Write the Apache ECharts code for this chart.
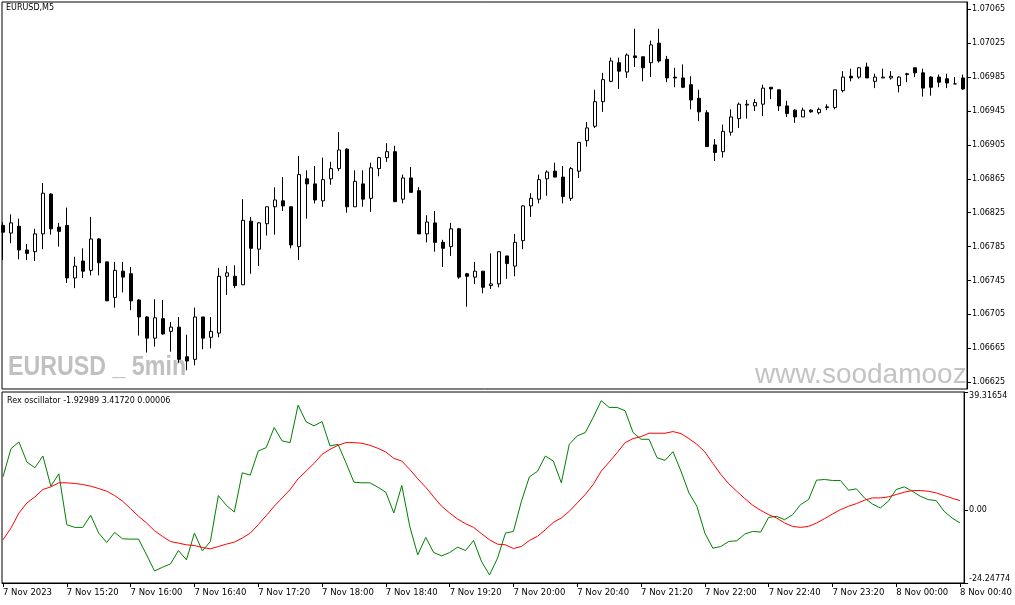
<!DOCTYPE html>
<html>
<head>
<meta charset="utf-8">
<script src="https://cdn.jsdelivr.net/npm/echarts@6/dist/echarts.min.js"></script>
<style>
html,body{margin:0;padding:0;background:#fff;}
#chart{width:1015px;height:605px;}
</style>
</head>
<body>
<div id="chart"></div>
<script>
// ---- data (EURUSD M5, 7 Nov 2023 14:40 .. 8 Nov 00:40) ----
const timeLabels = ["7 Nov 2023","7 Nov 15:20","7 Nov 16:00","7 Nov 16:40","7 Nov 17:20","7 Nov 18:00","7 Nov 18:40","7 Nov 19:20","7 Nov 20:00","7 Nov 20:40","7 Nov 21:20","7 Nov 22:00","7 Nov 22:40","7 Nov 23:20","8 Nov 00:00","8 Nov 00:40"];
const timeTickIndex = [0,8,16,24,32,40,48,56,64,72,80,88,96,104,112,120];
const priceTicks = [1.06625,1.06665,1.06705,1.06745,1.06785,1.06825,1.06865,1.06905,1.06945,1.06985,1.07025,1.07065];
const oscTicks = [-24.24774, 0, 39.31654];

const opens = [1.06810,1.06801,1.06809,1.06781,1.06779,1.06800,1.06847,1.06808,1.06810,1.06748,
1.06768,1.06757,1.06794,1.06767,1.06725,1.06756,1.06753,1.06722,1.06702,1.06677,
1.06700,1.06685,1.06690,1.06655,1.06652,1.06702,1.06678,1.06683,1.06750,1.06750,
1.06740,1.06815,1.06782,1.06812,1.06832,1.06839,1.06832,1.06785,1.06865,1.06859,
1.06839,1.06865,1.06877,1.06900,1.06832,1.06859,1.06842,1.06877,1.06890,1.06897,
1.06841,1.06866,1.06851,1.06800,1.06813,1.06790,1.06785,1.06806,1.06753,1.06749,
1.06756,1.06739,1.06741,1.06774,1.06762,1.06792,1.06833,1.06841,1.06865,1.06874,
1.06867,1.06842,1.06874,1.06910,1.06927,1.06956,1.06980,1.07002,1.06991,1.07010,
1.07009,1.07002,1.07025,1.07006,1.06985,1.06984,1.06976,1.06960,1.06943,1.06905,
1.06897,1.06920,1.06936,1.06952,1.06951,1.06953,1.06973,1.06970,1.06951,1.06946,
1.06938,1.06946,1.06943,1.06949,1.06949,1.06969,1.06986,1.06985,1.06997,1.06980,
1.06984,1.06984,1.06975,1.06988,1.06996,1.06990,1.06985,1.06985,1.06983,1.06977,
1.06984];
const closes = [1.06802,1.06813,1.06781,1.06777,1.06800,1.06848,1.06806,1.06803,1.06748,1.06762,
1.06756,1.06794,1.06766,1.06721,1.06757,1.06749,1.06721,1.06702,1.06677,1.06701,
1.06682,1.06690,1.06652,1.06650,1.06702,1.06677,1.06685,1.06750,1.06754,1.06739,
1.06816,1.06783,1.06813,1.06832,1.06840,1.06833,1.06787,1.06870,1.06859,1.06840,
1.06864,1.06877,1.06899,1.06832,1.06862,1.06841,1.06878,1.06890,1.06897,1.06838,
1.06866,1.06849,1.06800,1.06814,1.06790,1.06783,1.06806,1.06749,1.06750,1.06756,
1.06737,1.06741,1.06779,1.06765,1.06790,1.06833,1.06842,1.06864,1.06873,1.06867,
1.06844,1.06877,1.06908,1.06925,1.06956,1.06982,1.07004,1.06992,1.07011,1.07008,
1.06996,1.07023,1.07004,1.06984,1.06984,1.06973,1.06958,1.06944,1.06903,1.06896,
1.06921,1.06938,1.06953,1.06953,1.06955,1.06972,1.06971,1.06951,1.06942,1.06938,
1.06946,1.06944,1.06947,1.06950,1.06970,1.06985,1.06984,1.06996,1.06984,1.06985,
1.06985,1.06986,1.06985,1.06989,1.06990,1.06972,1.06973,1.06979,1.06978,1.06977,
1.06971];
const lows = [1.06769,1.06789,1.06770,1.06769,1.06768,1.06782,1.06799,1.06785,1.06742,1.06736,
1.06748,1.06751,1.06751,1.06721,1.06713,1.06731,1.06710,1.06680,1.06660,1.06667,
1.06681,1.06661,1.06648,1.06639,1.06645,1.06664,1.06665,1.06678,1.06728,1.06736,
1.06740,1.06753,1.06762,1.06798,1.06799,1.06827,1.06783,1.06769,1.06818,1.06836,
1.06832,1.06858,1.06874,1.06825,1.06832,1.06832,1.06826,1.06868,1.06885,1.06838,
1.06836,1.06849,1.06800,1.06790,1.06779,1.06761,1.06774,1.06747,1.06714,1.06741,
1.06730,1.06735,1.06737,1.06747,1.06750,1.06782,1.06820,1.06836,1.06845,1.06867,
1.06836,1.06839,1.06866,1.06903,1.06925,1.06944,1.06979,1.06971,1.06984,1.06997,
1.06980,1.06985,1.07002,1.06979,1.06973,1.06972,1.06947,1.06933,1.06903,1.06886,
1.06890,1.06916,1.06925,1.06936,1.06945,1.06939,1.06959,1.06945,1.06938,1.06931,
1.06938,1.06943,1.06941,1.06946,1.06947,1.06967,1.06980,1.06983,1.06984,1.06972,
1.06984,1.06982,1.06967,1.06979,1.06985,1.06962,1.06963,1.06973,1.06972,1.06977,
1.06970];
const highs = [1.06814,1.06823,1.06818,1.06788,1.06806,1.06860,1.06848,1.06813,1.06831,1.06773,
1.06783,1.06820,1.06795,1.06767,1.06767,1.06767,1.06761,1.06723,1.06703,1.06723,
1.06722,1.06696,1.06702,1.06681,1.06713,1.06702,1.06702,1.06760,1.06762,1.06763,
1.06841,1.06820,1.06814,1.06832,1.06855,1.06867,1.06832,1.06892,1.06875,1.06880,
1.06890,1.06885,1.06920,1.06901,1.06875,1.06875,1.06884,1.06891,1.06907,1.06904,
1.06870,1.06879,1.06855,1.06822,1.06827,1.06793,1.06813,1.06807,1.06754,1.06767,
1.06756,1.06777,1.06779,1.06774,1.06800,1.06834,1.06848,1.06870,1.06875,1.06884,
1.06880,1.06879,1.06908,1.06932,1.06970,1.06990,1.07008,1.07008,1.07013,1.07042,
1.07009,1.07028,1.07042,1.07010,1.06996,1.07000,1.06986,1.06970,1.06946,1.06912,
1.06929,1.06947,1.06955,1.06958,1.06959,1.06976,1.06973,1.06970,1.06957,1.06947,
1.06949,1.06947,1.06949,1.06953,1.06970,1.06992,1.06995,1.06997,1.07002,1.06989,
1.06995,1.06992,1.06986,1.06990,1.06996,1.06995,1.06986,1.06988,1.06989,1.06985,
1.06988];

const rexLine = [11.10,20.46,22.69,16.00,14.11,18.01,7.97,12.10,-4.85,-5.74,
-5.74,-1.73,-7.64,-10.76,-7.42,-9.54,-9.65,-9.65,-14.89,-20.24,
-19.01,-17.90,-13.44,-16.56,-7.64,-13.55,-10.43,4.85,1.62,-0.61,
12.43,11.65,19.68,20.80,27.49,23.03,22.47,34.96,29.39,28.05,
29.50,21.36,21.91,15.78,9.31,9.09,9.09,7.64,5.97,-0.95,
8.20,-5.41,-14.89,-9.09,-14.11,-15.22,-14.11,-12.32,-13.44,-10.09,
-17.12,-21.58,-16.00,-7.64,-7.08,2.96,11.10,12.88,18.01,16.34,
9.09,21.91,24.70,25.82,30.84,36.41,34.18,34.18,33.07,25.82,
23.59,23.59,17.45,16.56,19.46,12.99,5.74,1.28,-7.64,-12.66,
-12.10,-10.43,-10.20,-7.97,-7.08,-7.30,-2.40,-2.06,-3.18,-1.51,
1.84,3.51,9.98,10.20,9.87,9.87,6.64,7.08,4.07,2.06,
0.72,2.96,6.86,7.75,6.30,4.63,3.51,3.18,-0.39,-2.62,
-4.29];
const signalLine = [-9.87,-5.97,-0.95,2.40,4.41,6.86,7.75,9.09,9.09,8.87,
8.53,7.97,7.19,6.30,4.85,2.96,0.50,-2.06,-4.29,-6.86,
-8.75,-10.43,-10.98,-11.54,-11.77,-12.43,-12.88,-12.10,-11.32,-10.65,
-9.31,-7.64,-4.85,-1.84,1.28,4.07,6.86,10.43,12.99,15.56,
18.57,20.24,21.58,22.47,22.47,22.25,21.58,20.58,19.35,17.23,
16.34,13.55,10.43,7.64,4.41,1.28,-0.95,-2.96,-4.52,-5.74,
-7.86,-9.87,-11.32,-11.54,-12.77,-12.10,-10.09,-8.75,-6.52,-4.07,
-2.62,-0.39,2.40,5.19,8.53,12.99,16.00,19.13,22.47,23.81,
24.48,25.59,25.59,25.59,26.15,25.48,23.81,21.91,19.35,15.56,
11.88,8.75,6.30,3.85,1.62,-0.06,-1.51,-2.62,-4.29,-5.41,
-5.74,-5.41,-4.29,-2.84,-1.28,0.17,1.28,2.17,3.29,4.07,
4.07,4.41,5.19,5.97,6.52,6.52,6.30,5.74,4.85,3.96,
3.18];

// ---- build chart ----
const FONT = '"DejaVu Sans", Tahoma, sans-serif';
const candleData = opens.map((o, i) => [i, o, closes[i], lows[i], highs[i]]);
const rexData = rexLine.map((v, i) => [i, v]);
const sigData = signalLine.map((v, i) => [i, v]);

const chart = echarts.init(document.getElementById('chart'), null, {renderer: 'canvas'});
const xCommon = {type: 'value', min: -0.125, max: 120.5, splitLine: {show: false}};

chart.setOption({
  animation: false,
  backgroundColor: '#ffffff',
  grid: [
    {left: 2, top: 2, right: 48, height: 387, show: true, borderColor: '#000', borderWidth: 1},
    {left: 2, top: 392, right: 48, height: 191, show: true, borderColor: '#000', borderWidth: 1}
  ],
  xAxis: [
    Object.assign({gridIndex: 0, show: false, axisLine: {onZero: false}}, xCommon),
    Object.assign({
      gridIndex: 1,
      axisLine: {show: true, onZero: false, lineStyle: {color: '#000', width: 1}},
      axisTick: {show: true, customValues: timeTickIndex, length: 4, lineStyle: {color: '#000'}},
      axisLabel: {
        show: true, customValues: timeTickIndex, align: 'left', margin: 5,
        fontFamily: FONT, fontSize: 8.5, color: '#000',
        formatter: v => timeLabels[Math.round(v / 8)]
      }
    }, xCommon)
  ],
  yAxis: [
    {
      gridIndex: 0, type: 'value', position: 'right', min: 1.06617, max: 1.070736,
      splitLine: {show: false},
      axisLine: {show: true, onZero: false, lineStyle: {color: '#000'}},
      axisTick: {show: true, customValues: priceTicks, length: 4, lineStyle: {color: '#000'}},
      axisLabel: {show: true, customValues: priceTicks, margin: 5, fontFamily: FONT, fontSize: 8, color: '#000',
        formatter: v => v.toFixed(5)}
    },
    {
      gridIndex: 1, type: 'value', position: 'right', min: -24.24774, max: 39.31654,
      splitLine: {show: false},
      axisLine: {show: true, onZero: false, lineStyle: {color: '#000'}},
      axisTick: {show: true, customValues: oscTicks, length: 4, lineStyle: {color: '#000'}},
      axisLabel: {show: true, customValues: oscTicks, margin: 5, fontFamily: FONT, fontSize: 8, color: '#000',
        verticalAlignMaxLabel: 'top', verticalAlignMinLabel: 'bottom',
        formatter: v => (v === 0 ? '0.00' : v.toFixed(5))}
    }
  ],
  series: [
    {
      type: 'candlestick', xAxisIndex: 0, yAxisIndex: 0, z: 3,
      data: candleData, encode: {x: 0, y: [1, 2, 3, 4]},
      barWidth: 4,
      itemStyle: {color: '#ffffff', color0: '#000000', borderColor: '#000000', borderColor0: '#000000', borderWidth: 1}
    },
    {
      type: 'line', name: 'Rex', xAxisIndex: 1, yAxisIndex: 1, data: rexData,
      showSymbol: false, symbol: 'none', lineStyle: {color: '#008000', width: 1}, z: 3
    },
    {
      type: 'line', name: 'Signal', xAxisIndex: 1, yAxisIndex: 1, data: sigData,
      showSymbol: false, symbol: 'none', lineStyle: {color: '#ff0000', width: 1}, z: 3
    }
  ],
  graphic: [
    {type: 'text', x: 8, y: 368, scaleX: 0.86, z: 1,
      style: {text: 'EURUSD _ 5min', font: 'bold 27px "Liberation Sans", Arial, sans-serif', fill: '#c0c0c0', textVerticalAlign: 'middle', textAlign: 'left'}},
    {type: 'text', x: 755, y: 375, z: 1,
      style: {text: 'www.soodamooz', font: '28px "Liberation Sans", Arial, sans-serif', fill: '#c3c3c3', textVerticalAlign: 'middle', textAlign: 'left'}},
    {type: 'text', x: 6, y: 7.5, z: 10,
      style: {text: 'EURUSD,M5', font: '8px ' + FONT, fill: '#000', textVerticalAlign: 'middle'}},
    {type: 'text', x: 7, y: 401, z: 10,
      style: {text: 'Rex oscillator -1.92989 3.41720 0.00006', font: '8px ' + FONT, fill: '#000', textVerticalAlign: 'middle'}}
  ]
});
</script>
</body>
</html>
